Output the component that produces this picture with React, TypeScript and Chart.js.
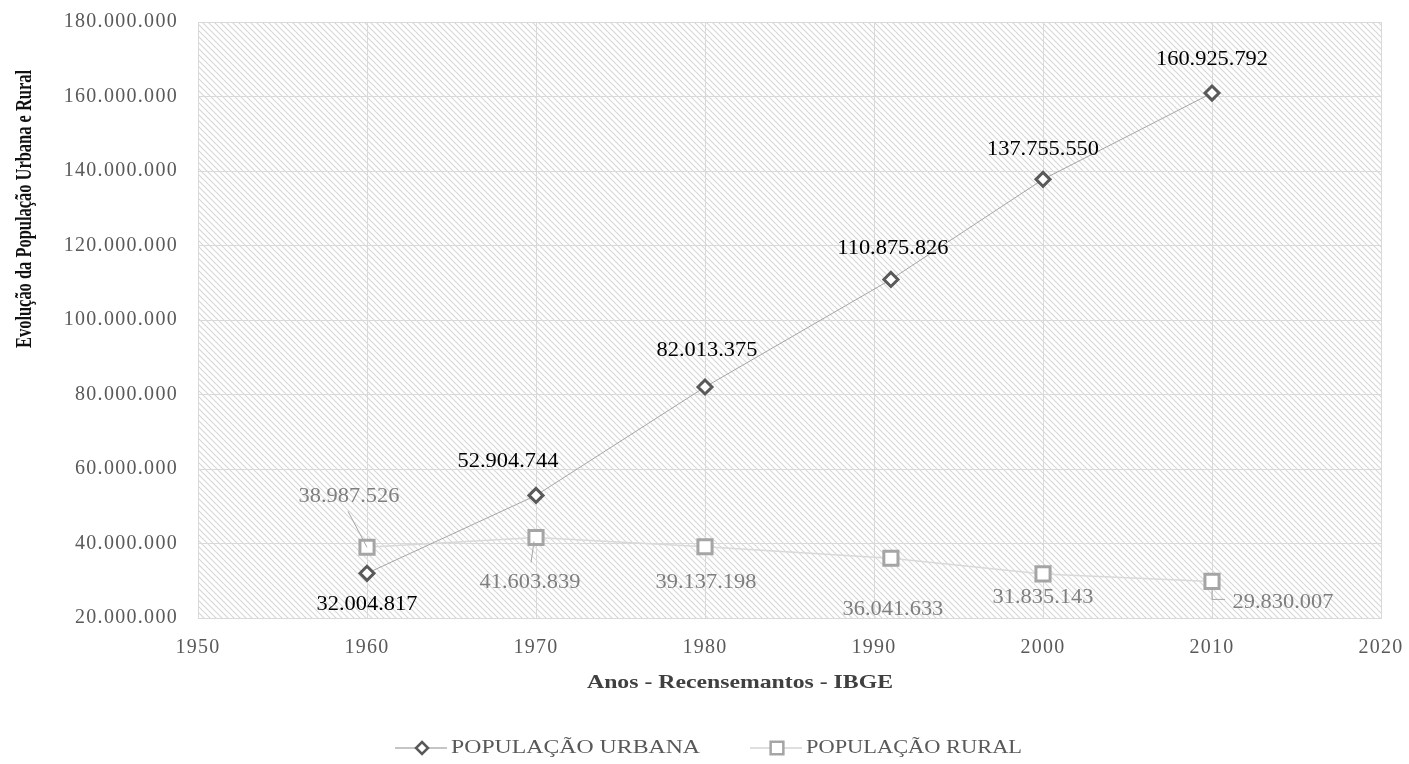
import React, { useEffect, useRef } from "react";
import { Chart, registerables } from "chart.js";

Chart.register(...registerables);

const years = [1960, 1970, 1980, 1991, 2000, 2010];
const urbana = [32004817, 52904744, 82013375, 110875826, 137755550, 160925792];
const rural = [38987526, 41603839, 39137198, 36041633, 31835143, 29830007];
const seriesNames = ["POPULAÇÃO URBANA", "POPULAÇÃO RURAL"];
const yTitle = "Evolução da População Urbana e Rural";
const xTitle = "Anos - Recensemantos - IBGE";
const xRange = [1950, 2020];
const yRange = [20000000, 180000000];

// label placement (offsets from the point, in px) – layout only
const urbanaLabelOffsets = [[0, 31], [-28, -34], [2, -36], [2, -31], [0, -30], [0, -33]];
const ruralLabelOffsets = [[-18, -51], [-6, 45], [1, 36], [2, 52], [0, 24], [71, 21]];

const FONT = "'Liberation Serif', 'Times New Roman', serif";
const SPACING = "1.3px";
const STRETCH = 1.12;

function fmt(v: number): string {
  return Math.round(v).toString().replace(/\B(?=(\d{3})+(?!\d))/g, ".");
}

// draw text horizontally stretched by k
function stretchText(ctx: any, text: string, x: number, y: number, k: number, align: string) {
  ctx.save();
  ctx.letterSpacing = "0px";
  ctx.textAlign = align;
  ctx.textBaseline = "middle";
  ctx.translate(x, y);
  ctx.scale(k, 1);
  ctx.fillText(text, 0, 0);
  ctx.restore();
}

function stretchToWidth(ctx: any, text: string, x: number, y: number, target: number, align: string) {
  ctx.letterSpacing = "0px";
  const w = ctx.measureText(text).width;
  stretchText(ctx, text, x, y, target / w, align);
}

const spacingPlugin = {
  id: "spacing",
  beforeUpdate(chart: any) {
    chart.ctx.letterSpacing = SPACING;
  },
  beforeDraw(chart: any) {
    chart.ctx.letterSpacing = SPACING;
  },
};

const hatchPlugin = {
  id: "hatch",
  beforeDraw(chart: any) {
    const { ctx, chartArea: a } = chart;
    const n = 6;
    const tile = document.createElement("canvas");
    tile.width = n;
    tile.height = n;
    const t = tile.getContext("2d")!;
    t.fillStyle = "#ffffff";
    t.fillRect(0, 0, n, n);
    t.strokeStyle = "#d8d8d8";
    t.lineWidth = 1.2;
    t.beginPath();
    t.moveTo(-1, -1);
    t.lineTo(n + 1, n + 1);
    t.moveTo(-1, n - 1);
    t.lineTo(1, n + 1);
    t.moveTo(n - 1, -1);
    t.lineTo(n + 1, 1);
    t.stroke();
    const pat = ctx.createPattern(tile, "repeat");
    ctx.save();
    ctx.fillStyle = pat;
    ctx.fillRect(a.left, a.top, a.right - a.left, a.bottom - a.top);
    ctx.restore();
  },
};

const labelsPlugin = {
  id: "pointLabels",
  afterDatasetsDraw(chart: any) {
    const ctx = chart.ctx;
    ctx.save();
    ctx.font = `20px ${FONT}`;
    const sets = [
      { idx: 0, values: urbana, offs: urbanaLabelOffsets, color: "#000000" },
      { idx: 1, values: rural, offs: ruralLabelOffsets, color: "#7f7f7f" },
    ];
    // leader lines for rural labels
    const m = chart.getDatasetMeta(1).data;
    ctx.strokeStyle = "#a6a6a6";
    ctx.lineWidth = 1;
    ctx.beginPath();
    ctx.moveTo(m[0].x - 19, m[0].y - 36);
    ctx.lineTo(m[0].x, m[0].y);
    ctx.moveTo(m[1].x - 2, m[1].y + 4);
    ctx.lineTo(m[1].x - 5, m[1].y + 25);
    ctx.moveTo(m[5].x, m[5].y + 8);
    ctx.lineTo(m[5].x, m[5].y + 18);
    ctx.lineTo(m[5].x + 13, m[5].y + 18);
    ctx.stroke();

    sets.forEach((s) => {
      const meta = chart.getDatasetMeta(s.idx).data;
      ctx.fillStyle = s.color;
      s.values.forEach((v, i) => {
        const p = meta[i];
        stretchText(ctx, fmt(v), p.x + s.offs[i][0], p.y + s.offs[i][1], STRETCH, "center");
      });
    });
    ctx.restore();
  },
};

const decorPlugin = {
  id: "decor",
  afterDraw(chart: any) {
    const ctx = chart.ctx;
    ctx.save();
    ctx.textBaseline = "middle";
    // y title (rotated; thickened like the stretched original)
    ctx.letterSpacing = "0px";
    ctx.font = `bold 17px ${FONT}`;
    ctx.fillStyle = "#111111";
    ctx.textAlign = "center";
    ctx.save();
    ctx.translate(25, 209);
    ctx.rotate(-Math.PI / 2);
    ctx.scale(1, 1.3);
    ctx.fillText(yTitle, 0, 0, 278);
    ctx.restore();
    // x title
    ctx.font = `bold 19px ${FONT}`;
    ctx.fillStyle = "#404040";
    stretchToWidth(ctx, xTitle, 740, 683, 306, "center");

    // legend
    ctx.font = `18px ${FONT}`;
    const y = 748;
    const items = [
      { name: seriesNames[0], x: 395, w: 249, line: "#8c8c8c", stroke: "#595959", style: "rectRot", r: 6 },
      { name: seriesNames[1], x: 750, w: 216, line: "#bfbfbf", stroke: "#a5a5a5", style: "rect", r: 9 },
    ];
    items.forEach((it) => {
      const x = it.x;
      ctx.strokeStyle = it.line;
      ctx.lineWidth = 1.2;
      ctx.beginPath();
      ctx.moveTo(x, y);
      ctx.lineTo(x + 52, y);
      ctx.stroke();
      ctx.fillStyle = "#ffffff";
      ctx.strokeStyle = it.stroke;
      ctx.lineWidth = 2.5;
      const cx = x + 27;
      ctx.beginPath();
      if (it.style === "rectRot") {
        ctx.moveTo(cx, y - it.r);
        ctx.lineTo(cx + it.r, y);
        ctx.lineTo(cx, y + it.r);
        ctx.lineTo(cx - it.r, y);
        ctx.closePath();
      } else {
        const h = it.r * Math.SQRT1_2;
        ctx.rect(cx - h, y - h, 2 * h, 2 * h);
      }
      ctx.fill();
      ctx.stroke();
      ctx.fillStyle = "#595959";
      stretchToWidth(ctx, it.name, x + 56, y, it.w, "left");
    });
    ctx.restore();
  },
};

export default function App() {
  const ref = useRef<HTMLCanvasElement | null>(null);
  useEffect(() => {
    document.body.style.margin = "0";
    const canvas = ref.current!;
    const chart = new Chart(canvas, {
      type: "line",
      data: {
        datasets: [
          {
            label: seriesNames[0],
            data: years.map((y, i) => ({ x: y, y: urbana[i] })),
            borderColor: "#a6a6a6",
            borderWidth: 1,
            pointStyle: "rectRot",
            pointRadius: 7,
            pointBorderWidth: 3,
            pointBorderColor: "#595959",
            pointBackgroundColor: "#ffffff",
            tension: 0,
          },
          {
            label: seriesNames[1],
            data: years.map((y, i) => ({ x: y, y: rural[i] })),
            borderColor: "#d9d9d9",
            borderWidth: 1.5,
            pointStyle: "rect",
            pointRadius: 10,
            pointBorderWidth: 3,
            pointBorderColor: "#a5a5a5",
            pointBackgroundColor: "#ffffff",
            tension: 0,
          },
        ],
      },
      options: {
        responsive: false,
        animation: false,
        devicePixelRatio: 1,
        layout: { padding: { left: 0, top: 22, right: 28, bottom: 60 } },
        plugins: { legend: { display: false }, tooltip: { enabled: false } },
        scales: {
          x: {
            type: "linear",
            min: xRange[0],
            max: xRange[1],
            ticks: {
              stepSize: 10,
              color: "#595959",
              font: { family: FONT, size: 20 },
              padding: 18,
              callback: (v: any) => String(v),
            },
            grid: { color: "#d9d9d9", drawTicks: false },
            border: { color: "#d9d9d9" },
            afterFit: (s: any) => {
              s.height = 86;
              s.paddingLeft = 0;
              s.paddingRight = 0;
            },
          },
          y: {
            type: "linear",
            min: yRange[0],
            max: yRange[1],
            ticks: {
              stepSize: 20000000,
              color: "#595959",
              font: { family: FONT, size: 20 },
              padding: 20,
              callback: (v: any) => fmt(Number(v)),
            },
            grid: { color: "#d9d9d9", drawTicks: false },
            border: { color: "#d9d9d9" },
            afterFit: (s: any) => {
              s.width = 198;
              s.paddingTop = 0;
              s.paddingBottom = 0;
            },
          },
        },
      },
      plugins: [spacingPlugin, hatchPlugin, labelsPlugin, decorPlugin],
    } as any);
    return () => chart.destroy();
  }, []);
  return (
    <div style={{ width: 1409, height: 764 }}>
      <canvas ref={ref} width={1409} height={764} style={{ display: "block" }} />
    </div>
  );
}
